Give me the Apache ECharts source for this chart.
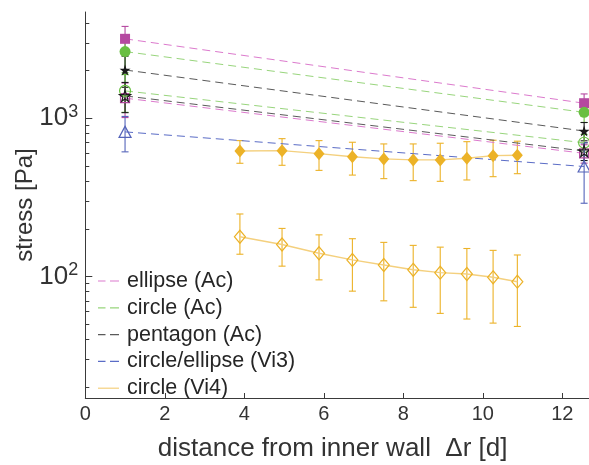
<!DOCTYPE html>
<html>
<head>
<meta charset="utf-8">
<script src="https://cdn.jsdelivr.net/npm/echarts@6/dist/echarts.min.js"></script>
<style>html,body{margin:0;padding:0;background:#fff;}#c{width:589px;height:465px;}</style>
</head>
<body>
<div id="c"></div>
<script>
// ---- data ----
const acX = [1, 12.55];
const ellipseFilled = [3180, 1245];
const ellipseFilledErr = [630, 180];
const ellipseOpen = [1340, 600];
const ellipseOpenErr = [330, 80];
const circleFilled = [2640, 1090];
const circleFilledErr = [700, 150];
const circleOpen = [1490, 700];
const circleOpenErr = [400, 90];
const pentFilled = [2020, 830];
const pentFilledErr = [450, 110];
const pentOpen = [1385, 620];
const pentOpenErr = [300, 80];
const vi3 = [820, 495];
const vi3Err = [207, 205];

const vi4X = [3.89, 4.95, 5.88, 6.72, 7.51, 8.25, 8.93, 9.60, 10.26, 10.87];
const vi4Filled = [621, 624, 597, 571, 553, 545, 545, 558, 580, 583];
const vi4FilledLow = [519, 504, 468, 437, 415, 403, 399, 407, 427, 446];
const vi4FilledHigh = [722, 743, 722, 705, 688, 688, 695, 711, 726, 716];
const vi4Open = [178, 159, 140, 127, 118, 110, 105.5, 103.5, 98.6, 92.5];
const vi4OpenLow = [138, 116, 95, 80.6, 70, 63.7, 58.3, 53.7, 50.6, 48.2];
const vi4OpenHigh = [248, 201, 183, 173, 164, 157, 153, 150, 146, 136.5];

const legendNames = ['ellipse (Ac)', 'circle (Ac)', 'pentagon (Ac)', 'circle/ellipse (Vi3)', 'circle (Vi4)'];
const yMinorTicks = [20,30,40,50,60,70,80,90,200,300,400,500,600,700,800,900,2000,3000,4000];
const yMajorTicks = [100, 1000];

// ---- styles ----
const C = {
  ellipse: {m: '#B548A0', l: '#DC7ACD'},
  circle: {m: '#69BF42', l: '#98D57C'},
  pent: {m: '#1a1a1a', l: '#5a5a5a'},
  vi3: {m: '#5564BA', l: '#5A6CC6'},
  vi4: {m: '#ECB227', l: '#F4D07E'}
};
const STAR = 'path://M50,0 L61.8,35.1 L98.1,35.1 L68.8,56.7 L79.4,91 L50,70 L20.6,91 L31.2,56.7 L1.9,35.1 L38.2,35.1 Z';
const DASH = [8, 5];

function pairs(xs, ys) { return xs.map((x, i) => [x, ys[i]]); }
function errData(xs, ys, err) { return xs.map((x, i) => [x, ys[i] - err[i], ys[i] + err[i]]); }
function errData2(xs, lo, hi) { return xs.map((x, i) => [x, lo[i], hi[i]]); }

function errSeries(data, color) {
  return {
    type: 'custom', xAxisIndex: 0, yAxisIndex: 0, silent: true, z: 2,
    encode: {x: 0, y: [1, 2]},
    data: data,
    renderItem: function (params, api) {
      const x = api.value(0);
      const pLo = api.coord([x, api.value(1)]);
      const pHi = api.coord([x, api.value(2)]);
      const w = 3.5;
      const style = {stroke: color, lineWidth: 1.1, fill: null};
      return {type: 'group', children: [
        {type: 'line', shape: {x1: pLo[0], y1: pLo[1], x2: pHi[0], y2: pHi[1]}, style: style},
        {type: 'line', shape: {x1: pLo[0] - w, y1: pLo[1], x2: pLo[0] + w, y2: pLo[1]}, style: style},
        {type: 'line', shape: {x1: pHi[0] - w, y1: pHi[1], x2: pHi[0] + w, y2: pHi[1]}, style: style}
      ]};
    }
  };
}

function lineSeries(name, data, col, symbol, size, filled, dashed, lw) {
  return {
    name: name, type: 'line', data: data, symbol: symbol, symbolSize: size, z: 3,
    showAllSymbol: true,
    color: col.m,
    itemStyle: filled ? {color: col.m, borderWidth: 0} : {color: 'rgba(0,0,0,0)', borderColor: col.m, borderWidth: 1.2},
    lineStyle: {color: col.l, width: lw || 1, type: dashed ? DASH : 'solid'},
    emphasis: {disabled: true}
  };
}

const series = [
  errSeries(errData(acX, ellipseFilled, ellipseFilledErr), C.ellipse.m),
  errSeries(errData(acX, circleFilled, circleFilledErr), C.circle.m),
  errSeries(errData(acX, pentFilled, pentFilledErr), C.pent.m),
  errSeries(errData(acX, ellipseOpen, ellipseOpenErr), C.ellipse.m),
  errSeries(errData(acX, circleOpen, circleOpenErr), C.circle.m),
  errSeries(errData(acX, pentOpen, pentOpenErr), C.pent.m),
  errSeries(errData(acX, vi3, vi3Err), C.vi3.m),
  errSeries(errData2(vi4X, vi4FilledLow, vi4FilledHigh), C.vi4.m),
  errSeries(errData2(vi4X, vi4OpenLow, vi4OpenHigh), C.vi4.m),
  lineSeries(legendNames[0], pairs(acX, ellipseFilled), C.ellipse, 'rect', 10, true, true),
  lineSeries('ellipse open', pairs(acX, ellipseOpen), C.ellipse, 'rect', 9, false, true),
  lineSeries(legendNames[1], pairs(acX, circleFilled), C.circle, 'circle', 11, true, true),
  lineSeries('circle open', pairs(acX, circleOpen), C.circle, 'circle', 11, false, true),
  lineSeries(legendNames[2], pairs(acX, pentFilled), C.pent, STAR, 11, true, true),
  lineSeries('pentagon open', pairs(acX, pentOpen), C.pent, STAR, 11, false, true),
  lineSeries(legendNames[3], pairs(acX, vi3), C.vi3, 'triangle', [12, 11], false, true),
  lineSeries(legendNames[4], pairs(vi4X, vi4Filled), C.vi4, 'diamond', [11, 13], true, false, 1.4),
  lineSeries('vi4 open', pairs(vi4X, vi4Open), C.vi4, 'diamond', [11, 13], false, false, 1.4)
];

const DASH_ICON = 'path://M0,0H7.5V1.2H0Z M12,0H21V1.2H12Z';
const SOLID_ICON = 'path://M0,0H21V1.2H0Z';
const legendCols = [C.ellipse.l, C.circle.l, C.pent.l, C.vi3.l, C.vi4.l];

const axisColor = '#3a3a3a';
const textColor = '#333333';
const FONT = '"Liberation Sans", Arial, sans-serif';

const chart = echarts.init(document.getElementById('c'), null, {renderer: 'canvas'});
chart.setOption({
  animation: false,
  backgroundColor: '#ffffff',
  textStyle: {fontFamily: FONT},
  grid: {left: 85.3, right: -13, top: 12, bottom: 67, containLabel: false, outerBoundsMode: 'none'},
  legend: {
    orient: 'vertical', left: 98, top: 270, padding: 0,
    itemWidth: 21, itemHeight: 2, itemGap: 4.8,
    textStyle: {fontSize: 21.5, color: '#262626', lineHeight: 21, fontFamily: FONT, padding: [0, 0, 0, 3]},
    selectedMode: false,
    data: legendNames.map((n, i) => ({
      name: n,
      icon: i === 4 ? SOLID_ICON : DASH_ICON,
      itemStyle: {color: legendCols[i], borderWidth: 0, opacity: 1}
    }))
  },
  xAxis: {
    type: 'value', min: 0, max: 13, interval: 2,
    axisLine: {show: true, lineStyle: {color: axisColor, width: 1}},
    axisTick: {show: true, inside: true, length: 5, lineStyle: {color: axisColor}},
    splitLine: {show: false},
    axisLabel: {fontSize: 20, color: textColor, margin: 6, showMaxLabel: false, fontFamily: FONT},
    name: 'distance from inner wall  \u0394r [d]',
    nameLocation: 'middle', nameGap: 38, nameMoveOverlap: false,
    nameTextStyle: {fontSize: 26, color: textColor, padding: [0, 22, 0, 0], fontFamily: FONT}
  },
  yAxis: [
    {
      type: 'log', logBase: 10, min: 17, max: 4700, position: 'left',
      axisLine: {show: true, lineStyle: {color: axisColor, width: 1}},
      axisTick: {show: true, inside: true, length: 4, customValues: yMinorTicks, lineStyle: {color: axisColor}},
      minorTick: {show: false},
      splitLine: {show: false},
      axisLabel: {
        customValues: yMajorTicks, margin: 7, color: textColor,
        formatter: function (v) {
          const e = Math.round(Math.log10(v));
          return '{b|10}{s|' + e + '}';
        },
        rich: {
          b: {fontSize: 26, color: textColor, fontFamily: FONT},
          s: {fontSize: 18, color: textColor, fontFamily: FONT, padding: [0, 0, 13, 0]}
        }
      },
      name: 'stress [Pa]', nameLocation: 'middle', nameGap: 48, nameMoveOverlap: false,
      nameTextStyle: {fontSize: 24, color: textColor, fontFamily: FONT}
    },
    {
      type: 'log', logBase: 10, min: 17, max: 4700, position: 'left', offset: 0,
      axisLine: {show: false},
      axisTick: {show: true, inside: true, length: 7, customValues: yMajorTicks, lineStyle: {color: axisColor}},
      axisLabel: {show: false},
      splitLine: {show: false}
    }
  ],
  series: series
});
</script>
</body>
</html>
